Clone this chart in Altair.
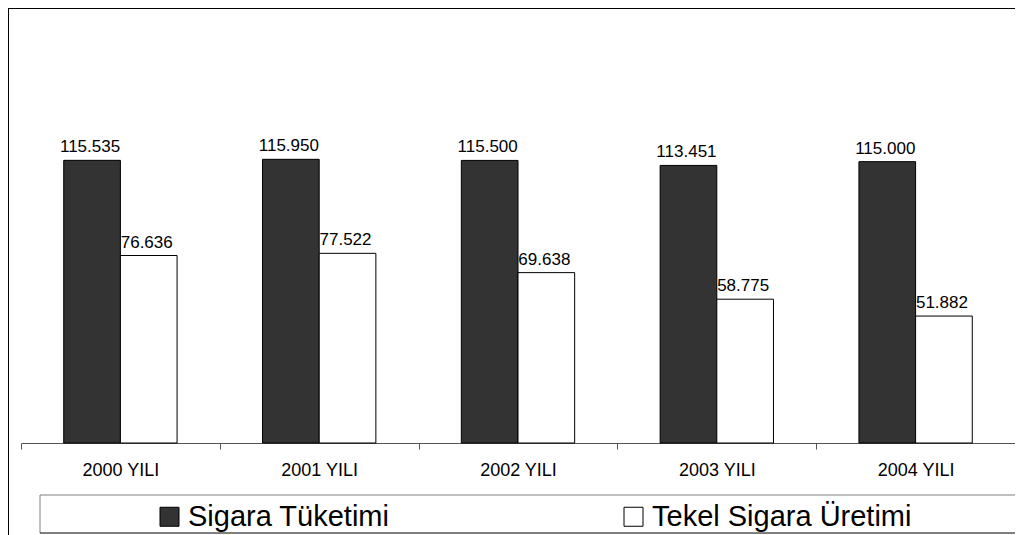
import altair as alt
import pandas as pd

years = ["2000 YILI", "2001 YILI", "2002 YILI", "2003 YILI", "2004 YILI"]
series = ["Sigara Tüketimi", "Tekel Sigara Üretimi"]
tuketim = [115.535, 115.950, 115.500, 113.451, 115.000]
uretim = [76.636, 77.522, 69.638, 58.775, 51.882]
colors = ["#333333", "#ffffff"]

rows = []
for i, y in enumerate(years):
    rows.append({"yil": y, "seri": series[0], "deger": tuketim[i]})
    rows.append({"yil": y, "seri": series[1], "deger": uretim[i]})
df = pd.DataFrame(rows)

FONT = "Liberation Sans"
W = 994

x_enc = alt.X(
    "yil:N",
    sort=years,
    title=None,
    scale=alt.Scale(paddingInner=0, paddingOuter=0),
    axis=alt.Axis(
        labelAngle=0,
        labelFont=FONT,
        labelFontSize=18,
        labelColor="black",
        labelPadding=12,
        tickBand="extent",
        tickSize=6,
        tickColor="#555555",
        domainColor="#555555",
        grid=False,
    ),
)
xo_enc = alt.XOffset(
    "seri:N",
    sort=series,
    scale=alt.Scale(paddingInner=0, paddingOuter=0.754),
)
y_enc = alt.Y(
    "deger:Q",
    axis=None,
    scale=alt.Scale(domain=[0, 177.8], nice=False, zero=True),
)

bars = alt.Chart(df).mark_bar(stroke="black", strokeWidth=1).encode(
    x=x_enc,
    xOffset=xo_enc,
    y=y_enc,
    color=alt.Color(
        "seri:N",
        scale=alt.Scale(domain=series, range=colors),
        legend=alt.Legend(
            orient="none",
            legendX=134,
            legendY=494,
            direction="horizontal",
            title=None,
            symbolType="square",
            symbolSize=361,
            symbolStrokeColor="black",
            symbolStrokeWidth=1,
            symbolOpacity=1,
            labelFont=FONT,
            labelFontSize=29,
            labelColor="black",
            labelOffset=4,
            labelLimit=500,
            columnPadding=229,
            padding=0,
        ),
    ),
)

labels = alt.Chart(df).mark_text(
    font=FONT, fontSize=17, color="black", dy=-8, dx=-2, baseline="alphabetic"
).encode(
    x=alt.X("yil:N", sort=years),
    xOffset=alt.XOffset("seri:N", sort=series),
    y="deger:Q",
    text=alt.Text("deger:Q", format=".3f"),
)

one = pd.DataFrame({"k": [0]})
frame_left = alt.Chart(one).mark_rule(color="black", strokeWidth=1).encode(
    x=alt.value(-12.5), y=alt.value(0), y2=alt.value(530)
)
frame_top = alt.Chart(one).mark_rule(color="black", strokeWidth=1).encode(
    x=alt.value(-13), x2=alt.value(W), y=alt.value(0.5)
)
leg_top = alt.Chart(one).mark_rule(color="#808080", strokeWidth=1).encode(
    x=alt.value(19), x2=alt.value(W), y=alt.value(487)
)
leg_left = alt.Chart(one).mark_rule(color="#808080", strokeWidth=1).encode(
    x=alt.value(19), y=alt.value(487), y2=alt.value(525)
)
leg_bottom = alt.Chart(one).mark_rule(color="black", strokeWidth=1).encode(
    x=alt.value(19), x2=alt.value(W), y=alt.value(525)
)

chart = alt.layer(
    frame_left, frame_top, leg_top, leg_left, leg_bottom, bars, labels
).properties(
    width=W,
    height=435,
    padding={"left": 13, "top": 0, "right": 0, "bottom": 92},
    autosize=alt.AutoSizeParams(type="none"),
    background="white",
).configure_view(stroke=None)

chart.save("out.html", embed_options={"renderer": "svg", "actions": False})
